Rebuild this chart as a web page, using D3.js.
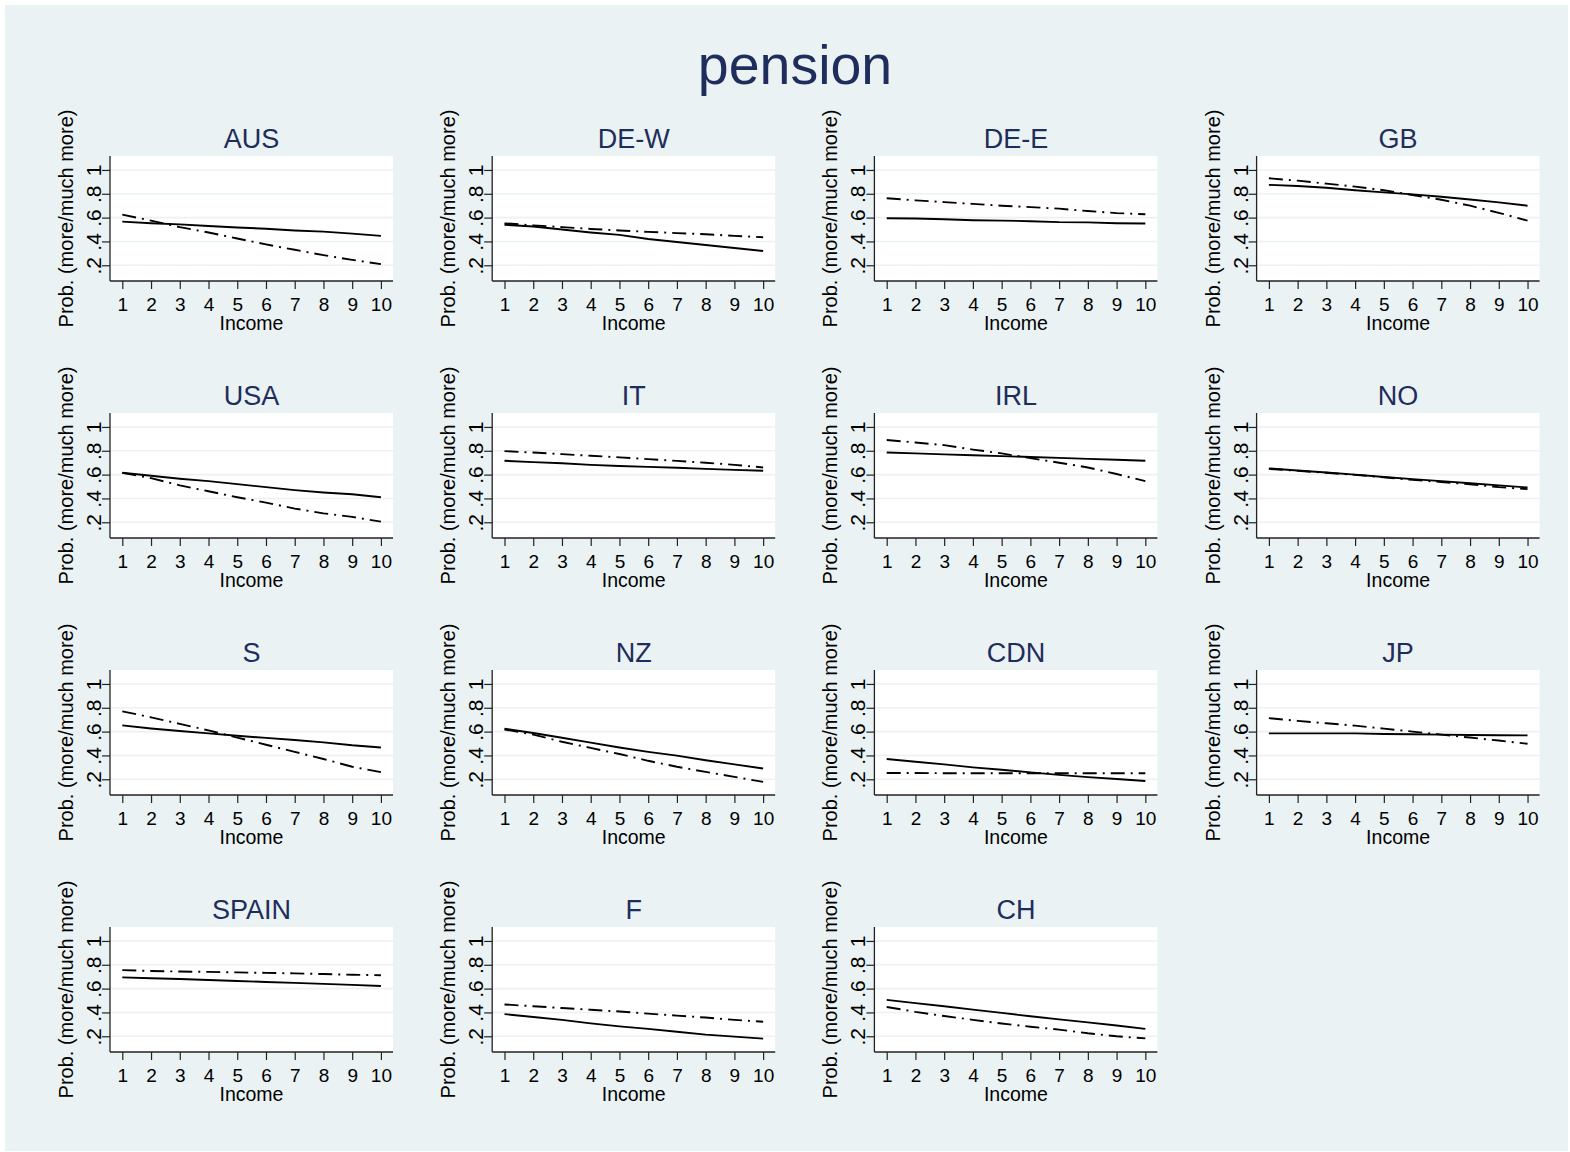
<!DOCTYPE html>
<html>
<head>
<meta charset="utf-8">
<script src="https://cdn.jsdelivr.net/npm/d3@7"></script>
<style>
  body { margin: 0; background: #ffffff; }
  svg text { font-family: "Liberation Sans", Arial, Helvetica, sans-serif; }
</style>
</head>
<body>
<svg id="chart" width="1570" height="1152"></svg>
<script>
// Predicted probability of wanting more/much more government spending on pensions,
// by income decile, for each country (two model specifications per panel).
const countries = ["AUS", "DE-W", "DE-E", "GB", "USA", "IT", "IRL", "NO",
                   "S", "NZ", "CDN", "JP", "SPAIN", "F", "CH"];
const income = [1, 2, 3, 4, 5, 6, 7, 8, 9, 10];
const yTicks = [0.2, 0.4, 0.6, 0.8, 1];
const yTickLabels = [".2", ".4", ".6", ".8", "1"];
const xTitle = "Income";
const yTitle = "Prob. (more/much more)";
const mainTitle = "pension";

// Solid line, one row per country (same order as `countries`)
const solidLine = [
  [0.566, 0.553, 0.543, 0.530, 0.517, 0.507, 0.492, 0.482, 0.466, 0.447], // AUS
  [0.540, 0.525, 0.500, 0.475, 0.455, 0.420, 0.395, 0.370, 0.345, 0.320], // DE-W
  [0.594, 0.592, 0.586, 0.578, 0.575, 0.570, 0.562, 0.560, 0.553, 0.551], // DE-E
  [0.875, 0.865, 0.850, 0.830, 0.812, 0.795, 0.775, 0.752, 0.728, 0.700], // GB
  [0.615, 0.590, 0.565, 0.545, 0.520, 0.495, 0.470, 0.450, 0.435, 0.410], // USA
  [0.716, 0.705, 0.695, 0.682, 0.672, 0.665, 0.657, 0.648, 0.640, 0.632], // IT
  [0.785, 0.778, 0.770, 0.762, 0.755, 0.748, 0.740, 0.732, 0.725, 0.716], // IRL
  [0.652, 0.635, 0.618, 0.600, 0.580, 0.562, 0.545, 0.528, 0.510, 0.492], // NO
  [0.652, 0.626, 0.605, 0.585, 0.565, 0.547, 0.530, 0.510, 0.485, 0.467], // S
  [0.624, 0.588, 0.548, 0.507, 0.467, 0.430, 0.398, 0.360, 0.325, 0.290], // NZ
  [0.370, 0.347, 0.325, 0.300, 0.280, 0.258, 0.237, 0.218, 0.202, 0.186], // CDN
  [0.585, 0.585, 0.585, 0.585, 0.580, 0.578, 0.575, 0.572, 0.570, 0.568], // JP
  [0.694, 0.687, 0.680, 0.672, 0.664, 0.656, 0.648, 0.640, 0.631, 0.622], // SPAIN
  [0.386, 0.362, 0.338, 0.308, 0.283, 0.262, 0.238, 0.214, 0.197, 0.180], // F
  [0.505, 0.478, 0.452, 0.424, 0.396, 0.368, 0.342, 0.317, 0.290, 0.262]  // CH
];

// Dash-dot line, one row per country
const dashDotLine = [
  [0.625, 0.575, 0.520, 0.475, 0.425, 0.375, 0.330, 0.285, 0.245, 0.210], // AUS
  [0.552, 0.535, 0.520, 0.505, 0.492, 0.480, 0.470, 0.460, 0.447, 0.435], // DE-W
  [0.762, 0.745, 0.730, 0.715, 0.700, 0.688, 0.675, 0.655, 0.638, 0.628], // DE-E
  [0.930, 0.910, 0.885, 0.860, 0.830, 0.790, 0.750, 0.700, 0.640, 0.575], // GB
  [0.615, 0.570, 0.510, 0.460, 0.410, 0.365, 0.315, 0.275, 0.245, 0.205], // USA
  [0.797, 0.785, 0.772, 0.758, 0.745, 0.730, 0.715, 0.700, 0.682, 0.660], // IT
  [0.890, 0.870, 0.847, 0.810, 0.778, 0.738, 0.700, 0.660, 0.605, 0.545], // IRL
  [0.648, 0.632, 0.615, 0.598, 0.578, 0.556, 0.538, 0.518, 0.495, 0.478], // NO
  [0.770, 0.720, 0.665, 0.610, 0.550, 0.490, 0.430, 0.370, 0.305, 0.260], // S
  [0.618, 0.575, 0.515, 0.463, 0.412, 0.355, 0.305, 0.262, 0.220, 0.178], // NZ
  [0.252, 0.252, 0.251, 0.250, 0.250, 0.250, 0.250, 0.250, 0.250, 0.250], // CDN
  [0.713, 0.690, 0.670, 0.650, 0.625, 0.600, 0.575, 0.550, 0.525, 0.498], // JP
  [0.755, 0.748, 0.743, 0.740, 0.736, 0.732, 0.728, 0.722, 0.716, 0.712], // SPAIN
  [0.467, 0.452, 0.437, 0.422, 0.408, 0.390, 0.373, 0.357, 0.338, 0.322], // F
  [0.446, 0.405, 0.370, 0.338, 0.307, 0.280, 0.256, 0.225, 0.200, 0.182]  // CH
];

// ---- layout ----
const W = 1570, H = 1152;
const nCols = 4;
const plotLeft0 = 110, colStep = 382.2;
const plotTop0 = 156, rowStep = 257;
const plotW = 283, plotH = 125;

const bg = "#eaf2f3";
const titleColor = "#1e2d5c";

const svg = d3.select("#chart");

svg.append("rect").attr("x", 0).attr("y", 0).attr("width", W).attr("height", H).attr("fill", "#ffffff");
svg.append("rect").attr("x", 5).attr("y", 5).attr("width", W - 7).attr("height", H - 6).attr("fill", bg);

svg.append("text")
  .attr("x", 795).attr("y", 84)
  .attr("text-anchor", "middle")
  .attr("font-size", 55.5)
  .attr("fill", titleColor)
  .text(mainTitle);

const x = d3.scaleLinear().domain([0.572, 10.42]).range([0, plotW]);
const y = d3.scaleLinear().domain([0.068, 1.117]).range([plotH, 0]);

const lineGen = d3.line()
  .x((d, i) => x(income[i]))
  .y(d => y(d));

countries.forEach((name, k) => {
  const col = k % nCols, row = Math.floor(k / nCols);
  const g = svg.append("g")
    .attr("transform", `translate(${plotLeft0 + col * colStep},${plotTop0 + row * rowStep})`);

  // plot region
  g.append("rect").attr("width", plotW).attr("height", plotH).attr("fill", "#ffffff");

  // horizontal gridlines
  g.selectAll(".grid").data(yTicks).enter().append("line")
    .attr("x1", 0).attr("x2", plotW)
    .attr("y1", d => y(d)).attr("y2", d => y(d))
    .attr("stroke", bg).attr("stroke-width", 1.6);

  // panel title
  g.append("text")
    .attr("x", plotW / 2).attr("y", -8)
    .attr("text-anchor", "middle")
    .attr("font-size", 27)
    .attr("fill", titleColor)
    .text(name);

  // x axis
  const xAxis = d3.axisBottom(x).tickValues(income).tickSize(8).tickPadding(9)
    .tickFormat(d3.format("d"));
  const gx = g.append("g").attr("transform", `translate(0,${plotH})`).call(xAxis);
  gx.select(".domain").attr("d", `M0,0H${plotW}`).attr("stroke", "#222").attr("stroke-width", 1.3);
  gx.selectAll(".tick line").attr("stroke", "#222").attr("stroke-width", 1.2);
  gx.selectAll(".tick text")
    .attr("font-size", 19).attr("fill", "#000")
    .attr("font-family", "'Liberation Sans', Arial, sans-serif");

  // y axis with rotated labels
  const yAxis = d3.axisLeft(y).tickValues(yTicks).tickSize(8)
    .tickFormat((d, i) => yTickLabels[i]);
  const gy = g.append("g").call(yAxis);
  gy.select(".domain").attr("d", `M0,0V${plotH}`).attr("stroke", "#222").attr("stroke-width", 1.3);
  gy.selectAll(".tick line").attr("stroke", "#222").attr("stroke-width", 1.2);
  gy.selectAll(".tick text")
    .attr("font-size", 21).attr("fill", "#000")
    .attr("font-family", "'Liberation Sans', Arial, sans-serif")
    .attr("x", null).attr("dy", null)
    .attr("text-anchor", "middle")
    .attr("transform", "translate(-9,0) rotate(-90)");

  // axis titles
  g.append("text")
    .attr("x", plotW / 2).attr("y", plotH + 49)
    .attr("text-anchor", "middle")
    .attr("font-size", 19.5).attr("fill", "#000")
    .text(xTitle);
  g.append("text")
    .attr("transform", `translate(-37,${plotH / 2}) rotate(-90)`)
    .attr("text-anchor", "middle")
    .attr("font-size", 20).attr("fill", "#000")
    .text(yTitle);

  // series
  g.append("path").datum(solidLine[k])
    .attr("d", lineGen).attr("fill", "none")
    .attr("stroke", "#000").attr("stroke-width", 1.9);
  g.append("path").datum(dashDotLine[k])
    .attr("d", lineGen).attr("fill", "none")
    .attr("stroke", "#000").attr("stroke-width", 1.9)
    .attr("stroke-dasharray", "14,6,2,6");
});
</script>
</body>
</html>
